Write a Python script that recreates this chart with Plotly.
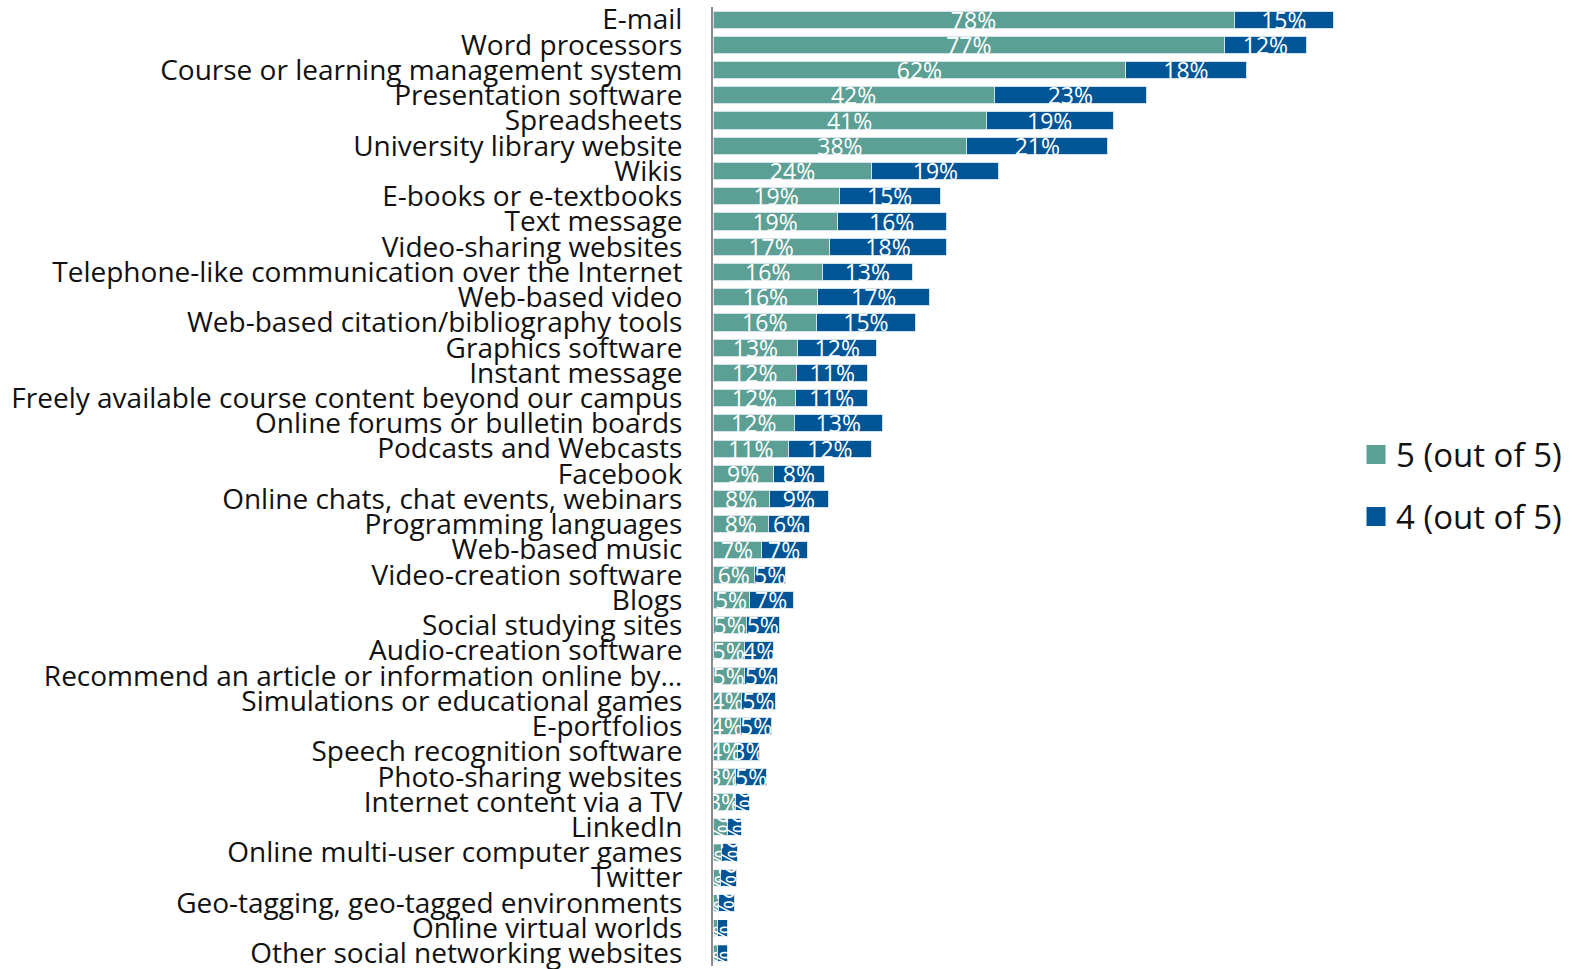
import plotly.graph_objects as go

categories = [
    "E-mail", "Word processors", "Course or learning management system",
    "Presentation software", "Spreadsheets", "University library website",
    "Wikis", "E-books or e-textbooks", "Text message", "Video-sharing websites",
    "Telephone-like communication over the Internet", "Web-based video",
    "Web-based citation/bibliography tools", "Graphics software",
    "Instant message", "Freely available course content beyond our campus",
    "Online forums or bulletin boards", "Podcasts and Webcasts", "Facebook",
    "Online chats, chat events, webinars", "Programming languages",
    "Web-based music", "Video-creation software", "Blogs",
    "Social studying sites", "Audio-creation software",
    "Recommend an article or information online by…",
    "Simulations or educational games", "E-portfolios",
    "Speech recognition software", "Photo-sharing websites",
    "Internet content via a TV", "LinkedIn",
    "Online multi-user computer games", "Twitter",
    "Geo-tagging, geo-tagged environments", "Online virtual worlds",
    "Other social networking websites",
]

rating5 = [78.0, 76.6, 61.8, 42.1, 40.9, 38.0, 23.8, 18.9, 18.6, 17.4,
           16.4, 15.7, 15.5, 12.7, 12.5, 12.4, 12.2, 11.3, 9.0, 8.4,
           8.3, 7.2, 6.2, 5.4, 5.0, 4.7, 4.7, 4.3, 4.1, 3.6,
           3.4, 3.3, 2.2, 1.3, 1.1, 0.8, 0.7, 0.7]
rating4 = [14.9, 12.2, 18.0, 22.8, 19.0, 21.1, 19.0, 15.1, 16.3, 17.6,
           13.4, 16.7, 14.8, 11.8, 10.7, 10.7, 13.1, 12.4, 7.7, 8.9,
           6.2, 6.9, 4.7, 6.6, 4.9, 4.4, 4.9, 5.0, 4.7, 3.4,
           4.6, 2.1, 2.1, 2.4, 2.4, 2.4, 1.4, 1.4]

series_names = ["5 (out of 5)", "4 (out of 5)"]

GREEN = "#5C9F94"
BLUE = "#005596"
OUTLINE = "#d3e1ea"
FONT = "'Open Sans', 'DejaVu Sans', sans-serif"

fig = go.Figure()
for vals, name, color, grp in [(rating5, series_names[0], GREEN, "a"),
                               (rating4, series_names[1], BLUE, "b")]:
    fig.add_trace(go.Bar(
        y=categories, x=vals, orientation="h", name=name,
        marker=dict(color=color, line=dict(color=OUTLINE, width=1)),
        text=[f"{v:.0f}%" for v in vals], textposition="inside",
        insidetextanchor="middle", textfont=dict(color="white", size=23),
        showlegend=False, legendgroup=grp, cliponaxis=False,
    ))
# legend entries with larger square swatches
for name, color, grp in [(series_names[0], GREEN, "a"),
                         (series_names[1], BLUE, "b")]:
    fig.add_trace(go.Scatter(
        x=[None], y=[None], mode="markers", name=name, legendgroup=grp,
        marker=dict(symbol="square", size=20, color=color,
                    line=dict(color=color, width=3)),
    ))

fig.update_layout(
    barmode="stack",
    bargap=0.32,
    width=1581, height=969,
    margin=dict(l=713, r=200, t=7, b=3, autoexpand=False),
    paper_bgcolor="white", plot_bgcolor="white",
    font=dict(family=FONT, color="#111111"),
    uniformtext=dict(minsize=23, mode="show"),
    showlegend=True,
    legend=dict(
        x=0.9626, xanchor="left", y=0.501, yanchor="middle",
        font=dict(size=33, color="#111111"),
        traceorder="grouped", tracegroupgap=16,
        itemwidth=30, bgcolor="rgba(0,0,0,0)",
    ),
    xaxis=dict(range=[0, 100], visible=False, fixedrange=True),
    yaxis=dict(
        autorange="reversed", showline=True, linecolor="#8c8c8c", linewidth=2,
        ticks="", showgrid=False, ticklabelstandoff=23, automargin=False,
        tickmode="array", tickvals=categories, ticktext=categories,
        tickfont=dict(size=28, color="#111111"),
    ),
)

fig.write_html(
    "out.html",
    config={"displayModeBar": False},
    post_script="document.body.style.margin='0';document.body.style.overflow='hidden';",
)
